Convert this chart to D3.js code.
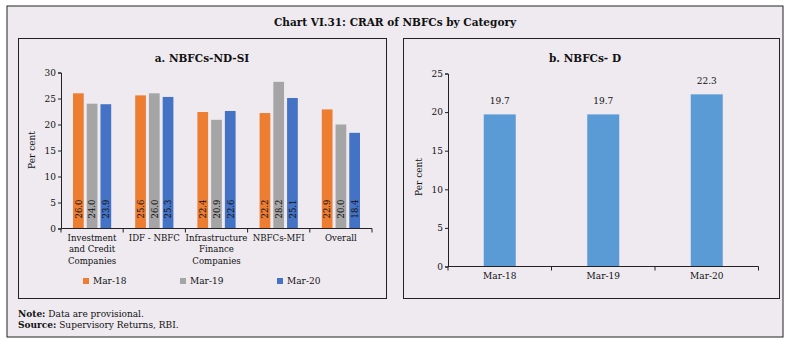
<!DOCTYPE html>
<html>
<head>
  <script src="https://d3js.org/d3.v7.min.js"></script>
  <style>
    body { margin: 0; background: #fff; }
    text { font-family: "DejaVu Serif", serif; fill: #111; }
    .tick text { font-size: 9px; }
    .domain, .tick line { stroke: #222; }
  </style>
</head>
<body>
  <svg id="chart" width="791" height="345"></svg>
  <script>
    // panel a data
    const categoriesA = [["Investment", "and Credit", "Companies"], ["IDF - NBFC"], ["Infrastructure", "Finance", "Companies"], ["NBFCs-MFI"], ["Overall"]];
    const seriesNames = ["Mar-18", "Mar-19", "Mar-20"];
    const mar18 = [26.0, 25.6, 22.4, 22.2, 22.9];
    const mar19 = [24.0, 26.0, 20.9, 28.2, 20.0];
    const mar20 = [23.9, 25.3, 22.6, 25.1, 18.4];
    const colorsA = ["#ed7d31", "#a5a5a5", "#4472c4"];
    const ticksA = [0, 5, 10, 15, 20, 25, 30];

    // panel b data
    const categoriesB = ["Mar-18", "Mar-19", "Mar-20"];
    const valuesB = [19.7, 19.7, 22.3];
    const ticksB = [0, 5, 10, 15, 20, 25];

    const svg = d3.select("#chart");

    svg.append("rect").attr("x", 7).attr("y", 6).attr("width", 776).attr("height", 331)
      .attr("fill", "#eeeaf0").attr("stroke", "#222").attr("stroke-width", 1);

    svg.append("text").attr("x", 395).attr("y", 26).attr("text-anchor", "middle")
      .style("font-size", "10.5px").style("font-weight", "bold")
      .text("Chart VI.31: CRAR of NBFCs by Category");

    // panel boxes
    svg.append("rect").attr("x", 18.5).attr("y", 38.5).attr("width", 368).attr("height", 260)
      .attr("fill", "none").attr("stroke", "#222");
    svg.append("rect").attr("x", 403.5).attr("y", 38.5).attr("width", 376).attr("height", 260)
      .attr("fill", "none").attr("stroke", "#222");

    // ---- panel a ----
    const gA = svg.append("g");
    gA.append("text").attr("x", 202).attr("y", 62).attr("text-anchor", "middle")
      .style("font-size", "10.5px").style("font-weight", "bold").text("a. NBFCs-ND-SI");

    const xA = d3.scaleBand().domain(d3.range(categoriesA.length)).range([61, 372]);
    const yA = d3.scaleLinear().domain([0, 30]).range([228.5, 72.5]);
    const xInner = d3.scaleBand().domain(d3.range(3)).range([12, xA.bandwidth() - 12]).paddingInner(0.22);

    const series = [mar18, mar19, mar20];
    series.forEach((vals, s) => {
      gA.selectAll(".bar" + s).data(vals).join("rect")
        .attr("x", (d, i) => xA(i) + xInner(s))
        .attr("y", d => yA(d))
        .attr("width", xInner.bandwidth())
        .attr("height", d => yA(0) - yA(d))
        .attr("fill", colorsA[s]);
      gA.selectAll(".lab" + s).data(vals).join("text")
        .attr("transform", (d, i) => `translate(${xA(i) + xInner(s) + xInner.bandwidth() / 2 + 3.3},${yA(0) - 10}) rotate(-90)`)
        .style("font-size", "8.5px")
        .text(d => d.toFixed(1));
    });

    const yAxisA = gA.append("g").attr("transform", "translate(61,0)")
      .call(d3.axisLeft(yA).tickValues(ticksA).tickSize(3).tickPadding(2));
    yAxisA.selectAll(".tick text").style("font-size", "9px");

    const xAxisA = gA.append("g").attr("transform", `translate(0,${yA(0)})`);
    xAxisA.append("line").attr("x1", 61).attr("x2", 372).attr("stroke", "#222");
    xAxisA.selectAll(".sep").data(d3.range(categoriesA.length + 1)).join("line")
      .attr("x1", i => 61 + i * xA.step()).attr("x2", i => 61 + i * xA.step())
      .attr("y1", 0).attr("y2", 4).attr("stroke", "#222");
    xAxisA.selectAll(".cat").data(categoriesA).join("text")
      .attr("text-anchor", "middle")
      .attr("x", (d, i) => xA(i) + xA.bandwidth() / 2)
      .attr("y", 12)
      .style("font-size", "8.6px")
      .each(function (d) {
        d3.select(this).selectAll("tspan").data(d).join("tspan")
          .attr("x", d3.select(this).attr("x"))
          .attr("dy", (t, j) => j === 0 ? 0 : 11.6)
          .text(t => t);
      });

    gA.append("text").attr("transform", "translate(35,150) rotate(-90)").attr("text-anchor", "middle")
      .style("font-size", "9px").text("Per cent");

    // legend a
    const legendX = [83, 180, 277];
    seriesNames.forEach((n, s) => {
      gA.append("rect").attr("x", legendX[s]).attr("y", 278).attr("width", 6).attr("height", 6).attr("fill", colorsA[s]);
      gA.append("text").attr("x", legendX[s] + 10).attr("y", 284).style("font-size", "9px").text(n);
    });

    // ---- panel b ----
    const gB = svg.append("g");
    gB.append("text").attr("x", 585).attr("y", 62).attr("text-anchor", "middle")
      .style("font-size", "10.5px").style("font-weight", "bold").text("b. NBFCs- D");

    const xB = d3.scaleBand().domain(categoriesB).range([448, 758.5]).paddingInner(0).paddingOuter(0);
    const yB = d3.scaleLinear().domain([0, 25]).range([266.5, 73.5]);
    const barW = 32;

    gB.selectAll(".barB").data(valuesB).join("rect")
      .attr("x", (d, i) => xB(categoriesB[i]) + xB.bandwidth() / 2 - barW / 2)
      .attr("y", d => yB(d))
      .attr("width", barW)
      .attr("height", d => yB(0) - yB(d))
      .attr("fill", "#5b9bd5");
    gB.selectAll(".labB").data(valuesB).join("text")
      .attr("x", (d, i) => xB(categoriesB[i]) + xB.bandwidth() / 2)
      .attr("y", d => yB(d) - 10)
      .attr("text-anchor", "middle")
      .style("font-size", "9px")
      .text(d => d.toFixed(1));

    const yAxisB = gB.append("g").attr("transform", "translate(448,0)")
      .call(d3.axisLeft(yB).tickValues(ticksB).tickSize(3).tickPadding(2));
    yAxisB.selectAll(".tick text").style("font-size", "9px");

    const xAxisB = gB.append("g").attr("transform", `translate(0,${yB(0)})`);
    xAxisB.append("line").attr("x1", 448).attr("x2", 758.5).attr("stroke", "#222");
    xAxisB.selectAll(".sep").data(d3.range(categoriesB.length + 1)).join("line")
      .attr("x1", i => 448 + i * xB.step()).attr("x2", i => 448 + i * xB.step())
      .attr("y1", 0).attr("y2", 4).attr("stroke", "#222");
    xAxisB.selectAll(".cat").data(categoriesB).join("text")
      .attr("text-anchor", "middle")
      .attr("x", d => xB(d) + xB.bandwidth() / 2)
      .attr("y", 12)
      .style("font-size", "9px")
      .text(d => d);

    gB.append("text").attr("transform", "translate(422,177) rotate(-90)").attr("text-anchor", "middle")
      .style("font-size", "9px").text("Per cent");

    // notes
    const note = svg.append("text").attr("x", 18).attr("y", 317).style("font-size", "9px");
    note.append("tspan").style("font-weight", "bold").text("Note:");
    note.append("tspan").text(" Data are provisional.");
    const src = svg.append("text").attr("x", 18).attr("y", 328).style("font-size", "9px");
    src.append("tspan").style("font-weight", "bold").text("Source:");
    src.append("tspan").text(" Supervisory Returns, RBI.");
  </script>
</body>
</html>
